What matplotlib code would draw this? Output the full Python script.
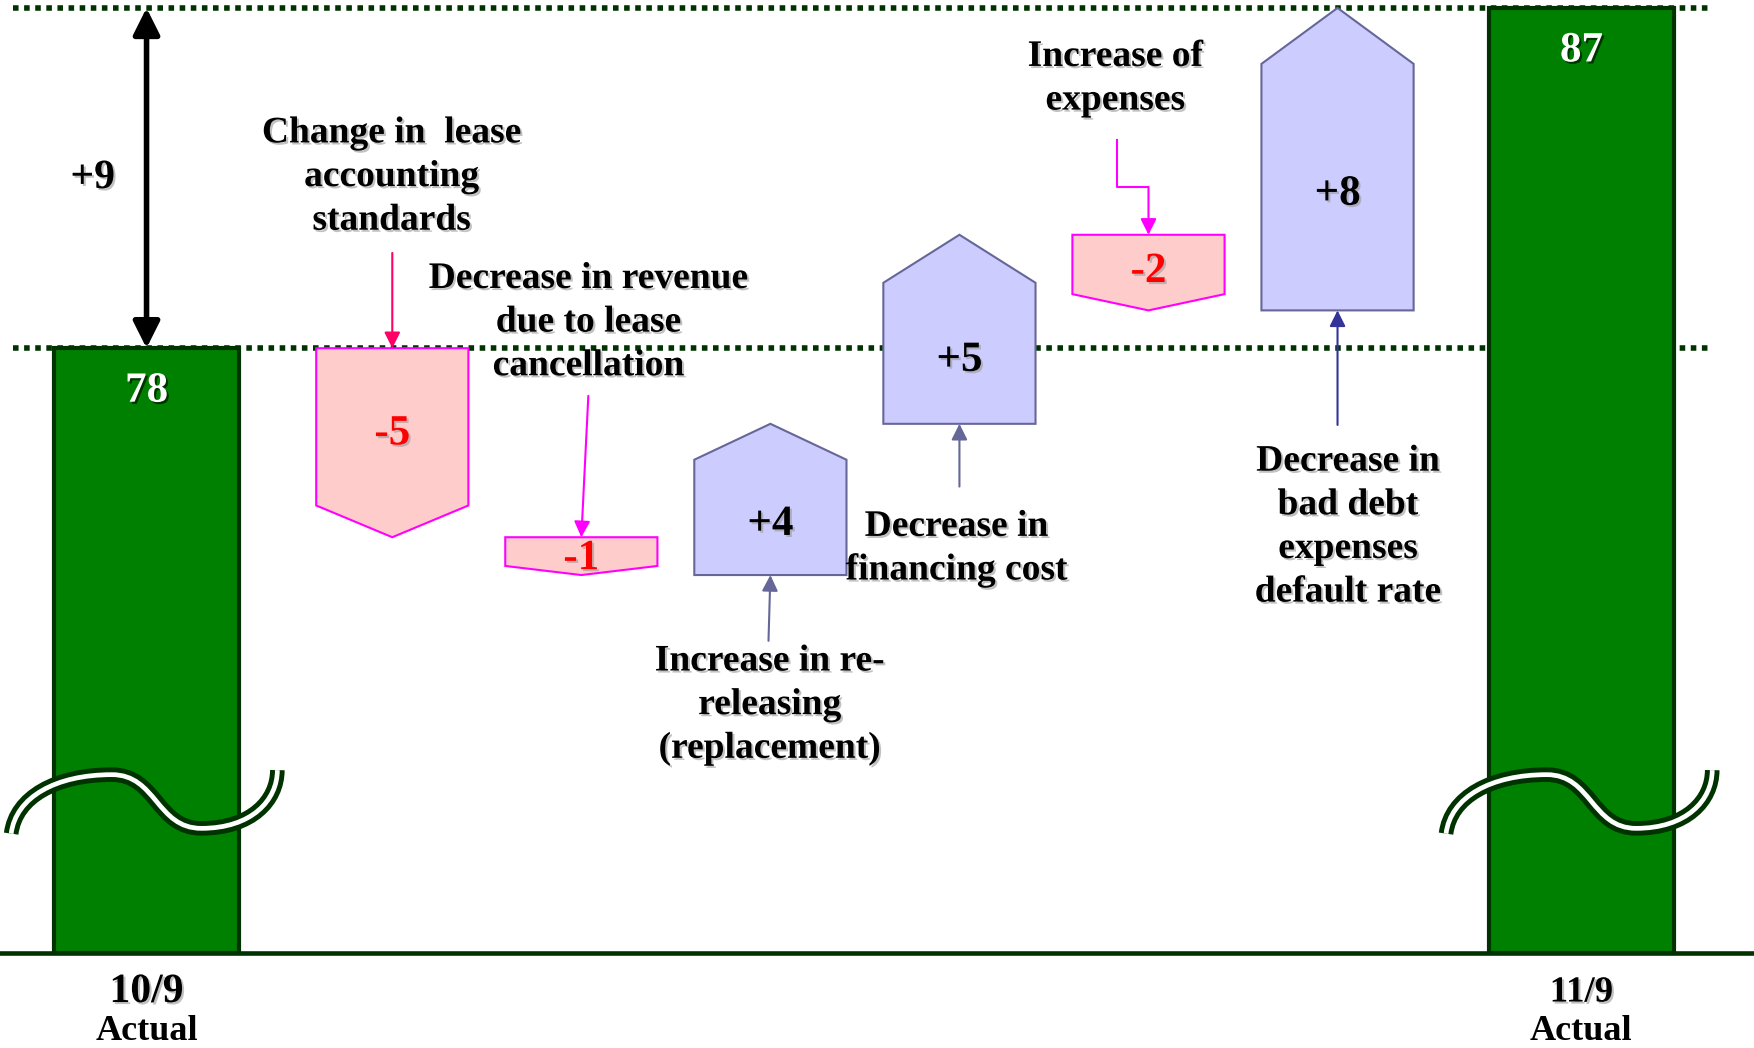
import numpy as np
import matplotlib
matplotlib.use("Agg")
import matplotlib.pyplot as plt
import matplotlib.patheffects as pe
from matplotlib.patches import Polygon, Rectangle, PathPatch
from matplotlib.path import Path

plt.rcParams['font.family'] = ['Liberation Serif', 'DejaVu Serif']
plt.rcParams['font.weight'] = 'bold'

# data
start_label = "10/9"
end_label = "11/9"
start_value = 78
end_value = 87
changes = [-5, -1, 4, 5, -2, 8]
change_labels = ["-5", "-1", "+4", "+5", "-2", "+8"]
callouts = [
    "Change in  lease\naccounting\nstandards",
    "Decrease in revenue\ndue to lease\ncancellation",
    "Increase in re-\nreleasing\n(replacement)",
    "Decrease in\nfinancing cost",
    "Increase of\nexpenses",
    "Decrease in\nbad debt\nexpenses\ndefault rate",
]
gap_label = "+9"

# layout
base = 62
xpos = [0, 1.3, 2.3, 3.3, 4.3, 5.3, 6.3, 7.59]
tips = [0.84, 0.24, 0.95, 1.27, 0.43, 1.48]
inner_w = 0.805
end_w = 0.98
dark = '#003300'
green = '#008000'

fig = plt.figure(figsize=(17.54, 10.48), dpi=100)
ax = fig.add_axes([0, 0, 1, 1])
ax.set_xlim(-0.7751, 8.503)
ax.set_ylim(59.49, 87.21)
ax.axis('off')

shadow = [pe.withSimplePatchShadow(offset=(1.5, -1.5), shadow_rgbFace='#999999', alpha=0.6)]
dshadow = [pe.withSimplePatchShadow(offset=(1.5, -1.5), shadow_rgbFace='#002200', alpha=0.8)]

# dotted reference lines
for lvl in [start_value, end_value]:
    ax.plot([-0.704, 8.28], [lvl, lvl], color=dark, lw=4,
            linestyle=(0, (1.0, 1.0)), dash_capstyle='butt', zorder=1)

# end bars
for x, v in [(xpos[0], start_value), (xpos[-1], end_value)]:
    ax.add_patch(Rectangle((x - end_w / 2, base), end_w, v - base,
                           facecolor=green, edgecolor=dark, lw=3, zorder=2))
    ax.text(x, v - 1.15, str(v), color='white', fontsize=31, ha='center',
            va='center', fontweight='bold', zorder=6, path_effects=dshadow)

# waterfall steps
levels = start_value + np.concatenate([[0], np.cumsum(changes)])
for i, ch in enumerate(changes):
    x = xpos[i + 1]
    h = inner_w / 2
    prev, cur = levels[i], levels[i + 1]
    tp = tips[i]
    if ch > 0:
        pts = [(x - h, prev), (x + h, prev), (x + h, cur - tp), (x, cur), (x - h, cur - tp)]
        fc, ec, tc = '#ccccff', '#666699', 'black'
        ymid = (prev + cur - tp) / 2
    else:
        pts = [(x - h, prev), (x + h, prev), (x + h, cur + tp), (x, cur), (x - h, cur + tp)]
        fc, ec, tc = '#ffcccc', '#ff00ff', 'red'
        ymid = (prev + cur + tp) / 2
    ax.add_patch(Polygon(pts, closed=True, facecolor=fc, edgecolor=ec, lw=1.5, zorder=3))
    ax.text(x, ymid - 0.2, change_labels[i], color=tc, fontsize=31, ha='center', va='center',
            fontweight='bold', zorder=6, path_effects=shadow)

# baseline
ax.plot([-0.7751, 8.503], [base, base], color=dark, lw=3.3, zorder=4)

# axis break marks (S-shaped double line)
def draw_break(cx):
    verts = [(-0.716, 65.16), (-0.692, 66.13), (-0.479, 66.72), (-0.183, 66.72),
             (0.053, 66.72), (0.053, 65.30), (0.29, 65.30),
             (0.556, 65.30), (0.692, 66.04), (0.692, 66.84)]
    verts = [(cx + dx, yy) for dx, yy in verts]
    codes = [Path.MOVETO] + [Path.CURVE4] * 9
    p = Path(verts, codes)
    ax.add_patch(PathPatch(p, fill=False, edgecolor=dark, lw=10.5, capstyle='butt', zorder=5))
    ax.add_patch(PathPatch(p, fill=False, edgecolor='white', lw=3.4, capstyle='butt', zorder=5))

draw_break(xpos[0])
draw_break(xpos[-1])

# category labels under the end bars
ax.text(xpos[0], 60.97, start_label, fontsize=30, ha='center', va='center', path_effects=shadow)
ax.text(xpos[0], 59.93, "Actual", fontsize=26, ha='center', va='center')
ax.text(xpos[-1], 60.97, end_label, fontsize=26.5, ha='center', va='center', path_effects=shadow)
ax.text(xpos[-1], 59.93, "Actual", fontsize=26, ha='center', va='center')

# gap arrow
ax.annotate('', xy=(xpos[0], end_value), xytext=(xpos[0], start_value),
            arrowprops=dict(arrowstyle='<|-|>', color='black', lw=4, mutation_scale=40,
                            shrinkA=0, shrinkB=0), zorder=6)
ax.text(xpos[0] - 0.285, (start_value + end_value) / 2, gap_label, fontsize=30,
        ha='center', va='center', path_effects=shadow)

# callouts
txt_pos = [(1.296, 82.54), (2.337, 78.69), (3.296, 68.57), (4.284, 72.71), (5.124, 85.14), (6.355, 73.28)]
for (tx, ty), s in zip(txt_pos, callouts):
    ax.text(tx, ty, s, fontsize=27, ha='center', va='center', linespacing=1.32,
            zorder=7, path_effects=shadow)

def arrow(x0, y0, x1, y1, col):
    ax.annotate('', xy=(x1, y1), xytext=(x0, y0),
                arrowprops=dict(arrowstyle='-|>', color=col, lw=1.5, mutation_scale=24,
                                shrinkA=0, shrinkB=0), zorder=6)

arrow(xpos[1], 80.52, xpos[1], levels[0], '#ff0066')
arrow(2.337, 76.74, xpos[2], levels[1], '#ff00ff')
arrow(3.29, 70.26, xpos[3], levels[2], '#666699')
arrow(xpos[4], 74.34, xpos[4], levels[3], '#666699')
ax.plot([5.136, 5.136, xpos[5]], [83.51, 82.27, 82.27], color='#ff00ff', lw=1.5, zorder=6)
arrow(xpos[5], 82.27, xpos[5], levels[4], '#ff00ff')
arrow(xpos[6], 75.97, xpos[6], levels[5], '#333399')

fig.savefig('out.png', dpi=100)
